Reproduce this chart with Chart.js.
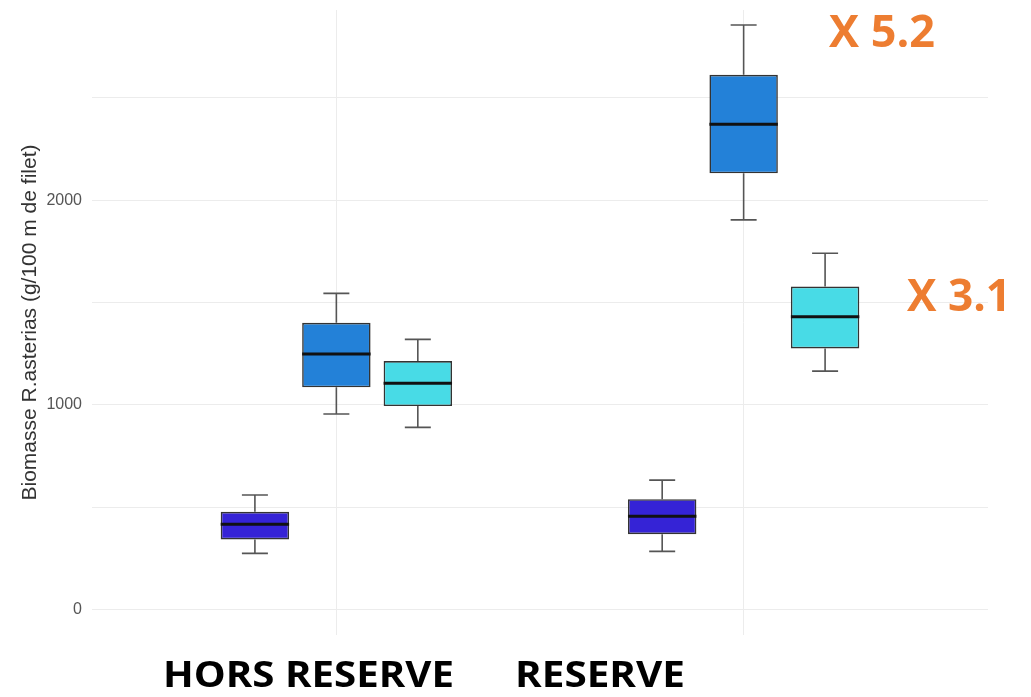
<!DOCTYPE html>
<html>
<head>
<meta charset="utf-8">
<script src="https://cdn.jsdelivr.net/npm/chart.js@4.4.1/dist/chart.umd.min.js"></script>
<style>
  body { margin: 0; background: #fff; }
  #wrap { width: 1031px; height: 697px; }
</style>
</head>
<body>
<div id="wrap"><canvas id="boxChart" width="1031" height="697"></canvas></div>
<script>
// categories on the x axis (positions 1 and 2)
const categories = ['HORS RESERVE', 'RESERVE'];
const categoryPos = [1, 2];

// box statistics per series: [HORS RESERVE, RESERVE]
const seriesNames = ['Série 1', 'Série 2', 'Série 3'];
const seriesColors = ['#3523d6', '#2381d8', '#48dbe6'];

const whiskerLow = [[274, 284], [955, 1904], [890, 1165]];
const q1 = [[342, 368], [1086, 2132], [994, 1276]];
const medians = [[416, 456], [1248, 2372], [1105, 1431]];
const q3 = [[477, 539], [1401, 2613], [1214, 1578]];
const whiskerHigh = [[559, 632], [1545, 2857], [1320, 1741]];

const yTicks = [0, 500, 1000, 1500, 2000, 2500];
const yLabelled = [0, 1000, 2000];

// annotations added on top of the plot
const ratioLabels = ['X 5.2', 'X 3.1'];

const datasets = seriesNames.map((name, s) => ({
    label: name,
    data: categoryPos.map((x, i) => ({ x: x, y: [q1[s][i], q3[s][i]] })),
    backgroundColor: seriesColors[s],
    borderColor: '#333333',
    borderWidth: 1.6,
    borderSkipped: false,
    categoryPercentage: 0.6,
    barPercentage: 0.84
}));

// whiskers (behind boxes) and medians (on top)
const boxPlugin = {
    id: 'boxParts',
    beforeDatasetsDraw(chart) {
        const ctx = chart.ctx;
        const y = chart.scales.y;
        ctx.save();
        ctx.strokeStyle = '#555555';
        ctx.lineWidth = 1.6;
        chart.data.datasets.forEach((ds, s) => {
            chart.getDatasetMeta(s).data.forEach((bar, i) => {
                const cap = bar.width * 0.38;
                const lo = y.getPixelForValue(whiskerLow[s][i]);
                const hi = y.getPixelForValue(whiskerHigh[s][i]);
                const b1 = y.getPixelForValue(q1[s][i]);
                const b3 = y.getPixelForValue(q3[s][i]);
                ctx.beginPath();
                ctx.moveTo(bar.x, b1); ctx.lineTo(bar.x, lo);
                ctx.moveTo(bar.x, b3); ctx.lineTo(bar.x, hi);
                ctx.moveTo(bar.x - cap / 2, lo); ctx.lineTo(bar.x + cap / 2, lo);
                ctx.moveTo(bar.x - cap / 2, hi); ctx.lineTo(bar.x + cap / 2, hi);
                ctx.stroke();
            });
        });
        ctx.restore();
    },
    afterDatasetsDraw(chart) {
        const ctx = chart.ctx;
        const y = chart.scales.y;
        ctx.save();
        ctx.strokeStyle = '#111111';
        ctx.lineWidth = 3;
        chart.data.datasets.forEach((ds, s) => {
            chart.getDatasetMeta(s).data.forEach((bar, i) => {
                const m = y.getPixelForValue(medians[s][i]);
                ctx.beginPath();
                ctx.moveTo(bar.x - bar.width / 2, m);
                ctx.lineTo(bar.x + bar.width / 2, m);
                ctx.stroke();
            });
        });
        ctx.restore();
    }
};

function fitText(ctx, text, x0, x1, baseline) {
    const w = ctx.measureText(text).width;
    ctx.save();
    ctx.translate(x0, baseline);
    ctx.scale((x1 - x0) / w, 1);
    ctx.fillText(text, 0, 0);
    ctx.restore();
}

const textPlugin = {
    id: 'slideText',
    afterDraw(chart) {
        const ctx = chart.ctx;
        ctx.save();
        ctx.textAlign = 'left';
        ctx.textBaseline = 'alphabetic';
        ctx.fillStyle = '#000000';
        ctx.font = 'bold 36px "Open Sans"';
        fitText(ctx, categories[0], 163, 454, 687);
        fitText(ctx, categories[1], 515, 685, 687);
        ctx.fillStyle = '#ED7D31';
        ctx.font = 'bold 44px "Open Sans"';
        fitText(ctx, ratioLabels[0], 829, 935, 47);
        fitText(ctx, ratioLabels[1], 907, 1011, 311);
        ctx.restore();
    }
};

const chart = new Chart(document.getElementById('boxChart').getContext('2d'), {
    type: 'bar',
    data: { datasets: datasets },
    options: {
        responsive: false,
        animation: false,
        layout: { padding: { left: 0, right: 43, top: 0, bottom: 62 } },
        plugins: {
            legend: { display: false },
            tooltip: { enabled: false }
        },
        scales: {
            x: {
                type: 'linear',
                min: 0.4,
                max: 2.6,
                offset: false,
                afterBuildTicks: (scale) => { scale.ticks = categoryPos.map(v => ({ value: v })); },
                afterFit: (scale) => { scale.height = 0; },
                ticks: { display: false },
                grid: { color: '#ececec', lineWidth: 1, drawTicks: false, offset: false },
                border: { display: false }
            },
            y: {
                min: -125,
                max: 2930,
                afterBuildTicks: (scale) => { scale.ticks = yTicks.map(v => ({ value: v })); },
                afterFit: (scale) => { scale.width = 92; scale.paddingTop = 10; },
                ticks: {
                    padding: 10,
                    color: '#555555',
                    font: { family: '"Liberation Sans", Arial, sans-serif', size: 16 },
                    callback: (v) => yLabelled.includes(v) ? String(v) : ''
                },
                grid: { color: '#ececec', lineWidth: 1, drawTicks: false },
                border: { display: false },
                title: {
                    display: true,
                    text: 'Biomasse R.asterias (g/100 m de filet)',
                    color: '#333333',
                    font: { family: '"Liberation Sans", Arial, sans-serif', size: 21 },
                    padding: { top: 18, bottom: 0 }
                }
            }
        }
    },
    plugins: [boxPlugin, textPlugin]
});
</script>
</body>
</html>
